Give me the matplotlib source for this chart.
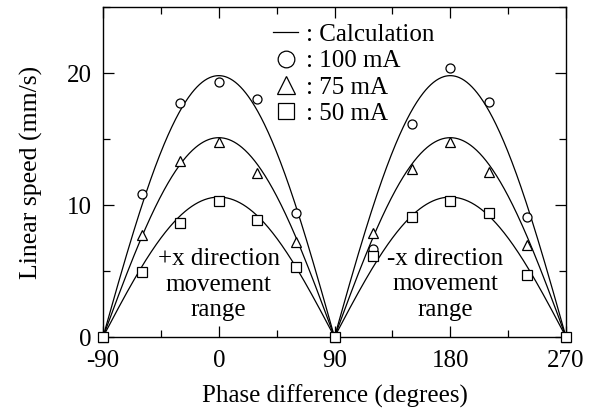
import numpy as np
import matplotlib.pyplot as plt
from matplotlib.lines import Line2D
from matplotlib.ticker import MultipleLocator

plt.rcParams['font.family'] = ['Liberation Serif', 'DejaVu Serif']
plt.rcParams['axes.unicode_minus'] = False

# ---------- DATA ----------
phase = [-90, -60, -30, 0, 30, 60, 90, 120, 150, 180, 210, 240, 270]
speed_100 = [0, 10.8, 17.7, 19.3, 18.0, 9.4, 0, 6.7, 16.1, 20.4, 17.8, 9.1, 0]
speed_75 = [0, 7.7, 13.3, 14.8, 12.4, 7.2, 0, 7.9, 12.7, 14.8, 12.5, 7.0, 0]
speed_50 = [0, 4.9, 8.6, 10.3, 8.9, 5.3, 0, 6.1, 9.1, 10.3, 9.4, 4.7, 0]

# peak speed of the calculated curves (mm/s)
calc_peak = {'100 mA': 19.8, '75 mA': 15.1, '50 mA': 10.6}

# ---------- PLOT ----------
fig = plt.figure(figsize=(5.93, 4.19), dpi=100)
ax = fig.add_axes([103/593, 1 - 337/419, 463/593, 330/419])

xc = np.linspace(-90, 270, 721)
for peak in calc_peak.values():
    ax.plot(xc, peak * np.abs(np.cos(np.radians(xc))), color='black', lw=0.9)

mk = dict(ls='none', mfc='white', mec='black', mew=0.9, clip_on=False, zorder=3)
ax.plot(phase, speed_100, marker='o', ms=6.5, **mk)
ax.plot(phase, speed_75, marker='^', ms=7.5, **mk)
ax.plot(phase, speed_50, marker='s', ms=6.5, **mk)

ax.set_xlim(-90, 270)
ax.set_ylim(0, 25)
ax.set_xticks([-90, 0, 90, 180, 270])
ax.set_yticks([0, 10, 20])
ax.xaxis.set_minor_locator(MultipleLocator(45))
ax.yaxis.set_minor_locator(MultipleLocator(5))
ax.tick_params(which='both', direction='in', top=True, right=True, labelsize=18, width=0.9)
ax.tick_params(which='major', length=8)
ax.tick_params(which='minor', length=5)
ax.tick_params(axis='x', pad=9)
ax.tick_params(axis='y', pad=8)
for s in ax.spines.values():
    s.set_linewidth(1.0)

ax.set_xlabel('Phase difference (degrees)', fontsize=18, labelpad=9.5)
ax.set_ylabel('Linear speed (mm/s)', fontsize=18.5, labelpad=17)

ax.text(0, 3.95, '+x direction\nmovement\nrange', ha='center', va='center',
        fontsize=18, linespacing=1.2)
ax.text(176, 4.0, '-x direction\nmovement\nrange', ha='center', va='center',
        fontsize=18, linespacing=1.2)

handles = [
    Line2D([], [], color='black', lw=0.9),
    Line2D([], [], ls='none', marker='o', ms=12, mfc='white', mec='black', mew=0.9),
    Line2D([], [], ls='none', marker='^', ms=13, mfc='white', mec='black', mew=0.9),
    Line2D([], [], ls='none', marker='s', ms=12, mfc='white', mec='black', mew=0.9),
]
labels = [': Calculation', ': 100 mA', ': 75 mA', ': 50 mA']
ax.legend(handles, labels, loc='upper left', bbox_to_anchor=(0.335, 0.995),
          frameon=False, fontsize=18, handlelength=1.0, handletextpad=0.3,
          labelspacing=0.15, borderpad=0.1)

fig.savefig('out.png', dpi=100)
